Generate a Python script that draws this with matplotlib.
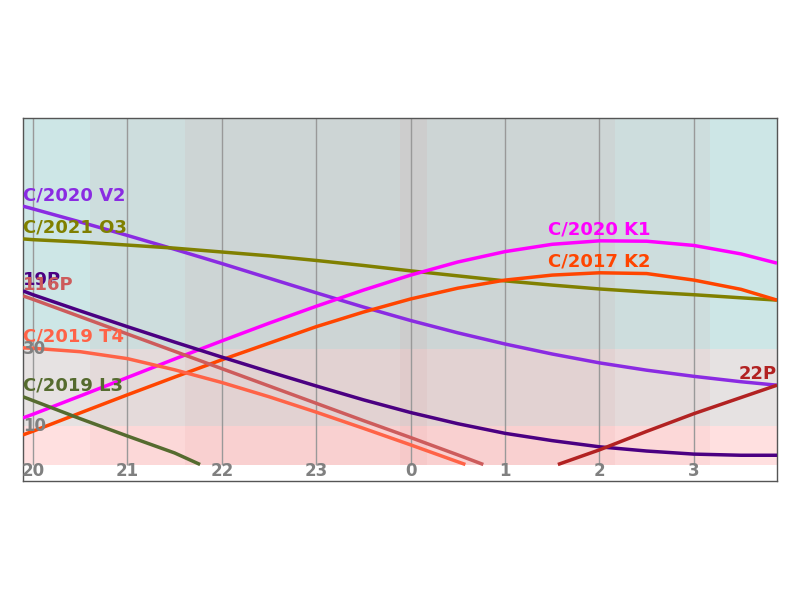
import numpy as np
from matplotlib import pyplot as plt

# hours after 20:00 (local time), altitude in degrees
hour_ticks = [0, 1, 2, 3, 4, 5, 6, 7]
hour_labels = ["20", "21", "22", "23", "0", "1", "2", "3"]
alt_ticks = [10, 30]

t_full = [-0.106, 0, 0.5, 1, 1.5, 2, 2.5, 3, 3.5, 4, 4.5, 5, 5.5, 6, 6.5, 7, 7.5, 7.881]

v2_alt = [67.1, 66.4, 63.0, 59.5, 55.9, 52.2, 48.4, 44.6, 40.9, 37.4, 34.2, 31.3, 28.7, 26.4, 24.5, 22.9, 21.5, 20.6]
o3_alt = [58.6, 58.4, 57.8, 57.0, 56.2, 55.2, 54.2, 53.0, 51.7, 50.3, 49.0, 47.7, 46.6, 45.6, 44.8, 44.1, 43.3, 42.7]
k1_alt = [12.1, 13.05, 17.8, 22.6, 27.4, 32.1, 36.7, 41.1, 45.3, 49.2, 52.6, 55.3, 57.2, 58.1, 58.0, 56.9, 54.7, 52.3]
k2_alt = [7.7, 8.65, 13.4, 18.1, 22.7, 27.2, 31.5, 35.8, 39.6, 43.0, 45.8, 47.9, 49.2, 49.8, 49.6, 47.9, 45.5, 42.7]
p19_alt = [45.1, 44.1, 39.9, 35.8, 31.8, 27.9, 24.1, 20.4, 16.8, 13.5, 10.6, 8.1, 6.2, 4.6, 3.5, 2.7, 2.4, 2.4]

t_116p = [-0.106, 0, 0.5, 1, 1.5, 2, 2.5, 3, 3.5, 4, 4.5, 4.77]
p116_alt = [43.8, 42.9, 38.4, 33.9, 29.4, 24.9, 20.4, 15.9, 11.4, 7.0, 2.5, 0.0]

t_t4 = [-0.106, 0, 0.5, 1, 1.5, 2, 2.5, 3, 3.5, 4, 4.5, 4.58]
t4_alt = [30.3, 30.2, 29.3, 27.5, 24.6, 21.3, 17.6, 13.6, 9.4, 5.1, 0.7, 0.0]

t_l3 = [-0.106, 0, 0.5, 1, 1.5, 1.77]
l3_alt = [17.6, 16.6, 11.9, 7.4, 3.0, 0.0]

t_22p = [5.56, 6, 6.5, 7, 7.5, 7.881]
p22_alt = [0.0, 3.8, 8.6, 13.2, 17.4, 20.6]

comets = [
    ("C/2020 V2", t_full, v2_alt, "#8a2be2"),
    ("C/2021 O3", t_full, o3_alt, "#808000"),
    ("C/2020 K1", t_full, k1_alt, "#ff00ff"),
    ("C/2017 K2", t_full, k2_alt, "#ff4500"),
    ("19P", t_full, p19_alt, "#4b0082"),
    ("116P", t_116p, p116_alt, "#cd5c5c"),
    ("C/2019 T4", t_t4, t4_alt, "#ff6347"),
    ("C/2019 L3", t_l3, l3_alt, "#556b2f"),
    ("22P", t_22p, p22_alt, "#b22222"),
]

# twilight / dark periods (hours after 20:00)
t_start, t_end = -0.106, 7.881
dark_levels = [(0.604, 7.17), (1.61, 6.165), (3.888, 4.174)]

fig = plt.figure(figsize=(8, 6), dpi=100)
ax = fig.add_axes([0.02875, 0.1983, 0.9425, 0.605])
ax.set_xlim(t_start, t_end)
ax.set_ylim(-4.29, 90)

# altitude bands
ax.fill_between([t_start, t_end], 30, 90, color="#cde6e6", lw=0, zorder=0)
ax.fill_between([t_start, t_end], 10, 30, color="#e6e2e2", lw=0, zorder=0)
ax.fill_between([t_start, t_end], 0, 10, color="#ffe0e0", lw=0, zorder=0)
for a, b in dark_levels:
    ax.fill_between([a, b], 0, 90, color="#cd5c5c", alpha=0.06, lw=0, zorder=1)

ax.vlines(hour_ticks, 0, 90, color="#999999", lw=1, zorder=2)

for name, t, alt, c in comets:
    ax.plot(t, alt, color=c, lw=2.5, zorder=3, solid_capstyle="butt")
    i = int(np.argmax(alt))
    if i == 0:
        ha = "left"
    elif i == len(alt) - 1:
        ha = "right"
    else:
        ha = "center"
    ax.text(t[i], alt[i] + 0.5, name, color=c, fontsize=13, fontweight="bold",
            ha=ha, va="bottom", zorder=4)

for h, lab in zip(hour_ticks, hour_labels):
    ax.text(h, -1.7, lab, color="gray", fontsize=12, fontweight="bold",
            ha="center", va="center", zorder=5)
for a in alt_ticks:
    ax.text(t_start, a, str(a), color="gray", fontsize=12, fontweight="bold",
            ha="left", va="center", zorder=5)

ax.set_xticks([])
ax.set_yticks([])
for s in ax.spines.values():
    s.set_color("#555555")
    s.set_linewidth(1)

plt.savefig("out.png", dpi=100)
